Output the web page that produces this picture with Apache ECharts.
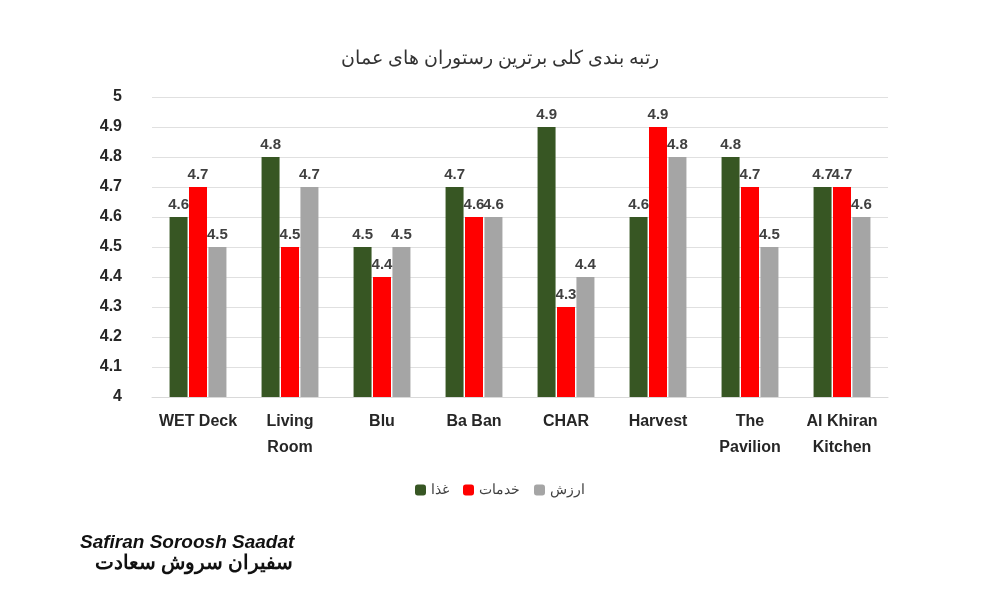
<!DOCTYPE html>
<html><head><meta charset="utf-8">
<script src="https://cdn.jsdelivr.net/npm/echarts@6/dist/echarts.min.js"></script>
<style>html,body{margin:0;padding:0;background:#fff}#c{width:1000px;height:600px}</style>
</head><body><div id="c"></div>
<script>
const categories = ['WET Deck','Living\nRoom','Blu','Ba Ban','CHAR','Harvest','The\nPavilion','Al Khiran\nKitchen'];
const food = [4.6,4.8,4.5,4.7,4.9,4.6,4.8,4.7];
const service = [4.7,4.5,4.4,4.6,4.3,4.9,4.7,4.7];
const value = [4.5,4.7,4.5,4.6,4.4,4.8,4.5,4.6];
const names = ['غذا','خدمات','ارزش'];
const colors = ['#375623','#ff0000','#a5a5a5'];
const chart = echarts.init(document.getElementById('c'));
const lbl = {show:true,position:'top',fontWeight:'bold',fontSize:15,color:'#404040',fontFamily:'Liberation Sans',formatter:p=>p.value.toFixed(1)};
const mk = (n,d,c)=>({name:n,type:'bar',data:d,barWidth:18,barGap:'8%',itemStyle:{color:c},label:lbl});
chart.setOption({
  animation:false,
  title:{text:'رتبه بندی کلی برترین رستوران های عمان',left:'center',top:44,textStyle:{fontSize:19,fontWeight:'normal',color:'#333',fontFamily:'Noto Sans'}},
  legend:{bottom:98,left:'center',itemWidth:11,itemHeight:11,itemGap:14,textStyle:{fontSize:14,color:'#404040',fontFamily:'Noto Sans'},data:names},
  grid:{left:152,right:112,top:97,bottom:203,containLabel:false},
  xAxis:{type:'category',data:categories,axisTick:{show:false},axisLine:{lineStyle:{color:'#d9d9d9'}},
    axisLabel:{interval:0,fontSize:16,fontWeight:'bold',color:'#262626',fontFamily:'Liberation Sans',lineHeight:26,margin:12}},
  yAxis:{type:'value',min:4,max:5,interval:0.1,axisLabel:{fontSize:16,fontWeight:'bold',color:'#262626',fontFamily:'Liberation Sans',formatter:v=>+v.toFixed(1)+'',margin:30},
    splitLine:{lineStyle:{color:'#e0e0e0'}}},
  series:[mk(names[0],food,colors[0]),mk(names[1],service,colors[1]),mk(names[2],value,colors[2])],
  graphic:[
    {type:'text',left:80,top:533,style:{text:'Safiran Soroosh Saadat',fontSize:19,fontWeight:'bold',fontStyle:'italic',fill:'#111',fontFamily:'Liberation Sans'}},
    {type:'text',left:95,top:553,style:{text:'سفیران سروش سعادت',fontSize:20,fontWeight:'bold',fill:'#111',fontFamily:'Noto Sans'}}
  ]
});
</script></body></html>
